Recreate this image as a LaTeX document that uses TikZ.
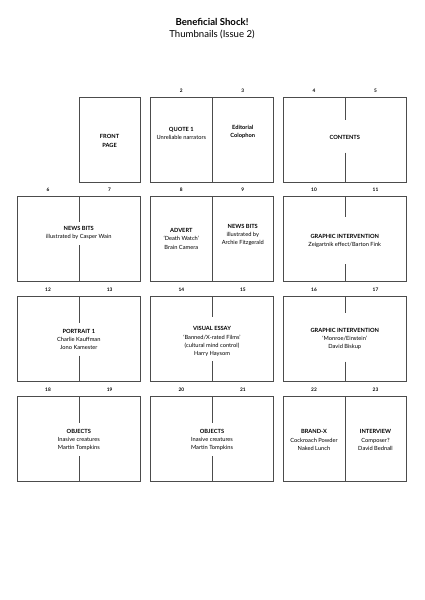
\documentclass[tikz,border=0pt]{standalone}
\usepackage{fontspec}
\setmainfont{Lato}
\begin{document}
\begin{tikzpicture}[x=1pt,y=-1pt,
  pg/.style={draw=black!70,line width=0.6pt},
  fold/.style={draw=black!70,line width=0.6pt},
  num/.style={font=\fontsize{4.8}{5}\selectfont\bfseries,inner sep=0pt},
  lbl/.style={font=\fontsize{5.7}{8.2}\selectfont,align=center,inner sep=0pt},
  ttl/.style={font=\fontsize{9.6}{11}\selectfont\bfseries,inner sep=0pt},
  sub/.style={font=\fontsize{9.6}{11}\selectfont,inner sep=0pt}]
\useasboundingbox (0,0) rectangle (424,600);
\fill[white] (0,0) rectangle (424,600);
% title
\node[ttl] (title) at (212,21.7) {Beneficial Shock!};
\node[sub] (subtitle) at (212,34.3) {Thumbnails (Issue 2)};

% ---------- Row 1 (top 97.2) ----------
\draw[pg] (78.8,97.2) rectangle (140.3,182.2);
\node[lbl] (front) at (109.6,141) {\textbf{FRONT}\\\textbf{PAGE}};
% spread 2/3
\draw[pg] (150.5,97.2) rectangle (273.5,182.2);
\draw[fold] (212,97.2) -- (212,182.2);
\node[num] (n2) at (181.3,90.7) {2};
\node[num] (n3) at (242.8,90.7) {3};
\node[lbl] (quote) at (181.3,133.3) {\textbf{QUOTE 1}\\Unreliable narrators};
\node[lbl] (edit) at (242.8,131.6) {\textbf{Editorial}\\\textbf{Colophon}};
% spread 4/5
\draw[pg] (283.3,97.2) rectangle (406.3,182.2);
\draw[fold] (344.8,97.2) -- (344.8,120);
\draw[fold] (344.8,152.7) -- (344.8,182.2);
\node[num] (n4) at (314,90.7) {4};
\node[num] (n5) at (375.5,90.7) {5};
\node[lbl] (contents) at (344.8,137.3) {\textbf{CONTENTS}};

% ---------- Row 2 (top 196.3) ----------
\draw[pg] (17.3,196.3) rectangle (140.3,281.3);
\draw[fold] (78.8,196.3) -- (78.8,222.3);
\draw[fold] (78.8,245) -- (78.8,281.3);
\node[num] (n6) at (48,189.8) {6};
\node[num] (n7) at (109.6,189.8) {7};
\node[lbl] (news1) at (78.8,233) {\textbf{NEWS BITS}\\illustrated by Casper Wain};
% 8/9
\draw[pg] (150.5,196.3) rectangle (273.5,281.3);
\draw[fold] (212,196.3) -- (212,281.3);
\node[num] (n8) at (181.3,189.8) {8};
\node[num] (n9) at (242.8,189.8) {9};
\node[lbl] (advert) at (181.3,238.8) {\textbf{ADVERT}\\‘Death Watch’\\Brain Camera};
\node[lbl] (news2) at (242.8,234.8) {\textbf{NEWS BITS}\\illustrated by\\Archie Fitzgerald};
% 10/11
\draw[pg] (283.3,196.3) rectangle (406.3,281.3);
\draw[fold] (344.8,196.3) -- (344.8,217.3);
\draw[fold] (344.8,264) -- (344.8,281.3);
\node[num] (n10) at (314,189.8) {10};
\node[num] (n11) at (375.5,189.8) {11};
\node[lbl] (gi1) at (344.8,240.8) {\textbf{GRAPHIC INTERVENTION}\\Zeigartnik effect/Barton Fink};

% ---------- Row 3 (top 296.6) ----------
\draw[pg] (17.3,296.6) rectangle (140.3,381.6);
\draw[fold] (78.8,296.6) -- (78.8,323.3);
\draw[fold] (78.8,355.7) -- (78.8,381.6);
\node[num] (n12) at (48,290.1) {12};
\node[num] (n13) at (109.6,290.1) {13};
\node[lbl] (portrait) at (78.8,339.2) {\textbf{PORTRAIT 1}\\Charlie Kauffman\\Jono Kamester};
% 14/15
\draw[pg] (150.5,296.6) rectangle (273.5,381.6);
\draw[fold] (212,296.6) -- (212,317.3);
\draw[fold] (212,361) -- (212,381.6);
\node[num] (n14) at (181.3,290.1) {14};
\node[num] (n15) at (242.8,290.1) {15};
\node[lbl] (visual) at (212,341.6) {\textbf{VISUAL ESSAY}\\‘Banned/X-rated Films’\\(cultural mind control)\\Harry Haysom};
% 16/17
\draw[pg] (283.3,296.6) rectangle (406.3,381.6);
\draw[fold] (344.8,296.6) -- (344.8,313.3);
\draw[fold] (344.8,361.7) -- (344.8,381.6);
\node[num] (n16) at (314,290.1) {16};
\node[num] (n17) at (375.5,290.1) {17};
\node[lbl] (gi2) at (344.8,339.2) {\textbf{GRAPHIC INTERVENTION}\\‘Monroe/Einstein’\\David Biskup};

% ---------- Row 4 (top 396.6) ----------
\draw[pg] (17.3,396.6) rectangle (140.3,481.6);
\draw[fold] (78.8,396.6) -- (78.8,422.7);
\draw[fold] (78.8,456) -- (78.8,481.6);
\node[num] (n18) at (48,390.1) {18};
\node[num] (n19) at (109.6,390.1) {19};
\node[lbl] (obj1) at (78.8,440) {\textbf{OBJECTS}\\Inasive creatures\\Martin Tompkins};
% 20/21
\draw[pg] (150.5,396.6) rectangle (273.5,481.6);
\draw[fold] (212,396.6) -- (212,422.5);
\draw[fold] (212,456.3) -- (212,481.6);
\node[num] (n20) at (181.3,390.1) {20};
\node[num] (n21) at (242.8,390.1) {21};
\node[lbl] (obj2) at (212,440) {\textbf{OBJECTS}\\Inasive creatures\\Martin Tompkins};
% 22/23
\draw[pg] (283.3,396.6) rectangle (406.3,481.6);
\draw[fold] (344.8,396.6) -- (344.8,481.6);
\node[num] (n22) at (314,390.1) {22};
\node[num] (n23) at (375.5,390.1) {23};
\node[lbl] (brand) at (314,440) {\textbf{BRAND-X}\\Cockroach Powder\\Naked Lunch};
\node[lbl] (interview) at (375.5,440) {\textbf{INTERVIEW}\\Composer?\\David Bednall};
\end{tikzpicture}
\end{document}
